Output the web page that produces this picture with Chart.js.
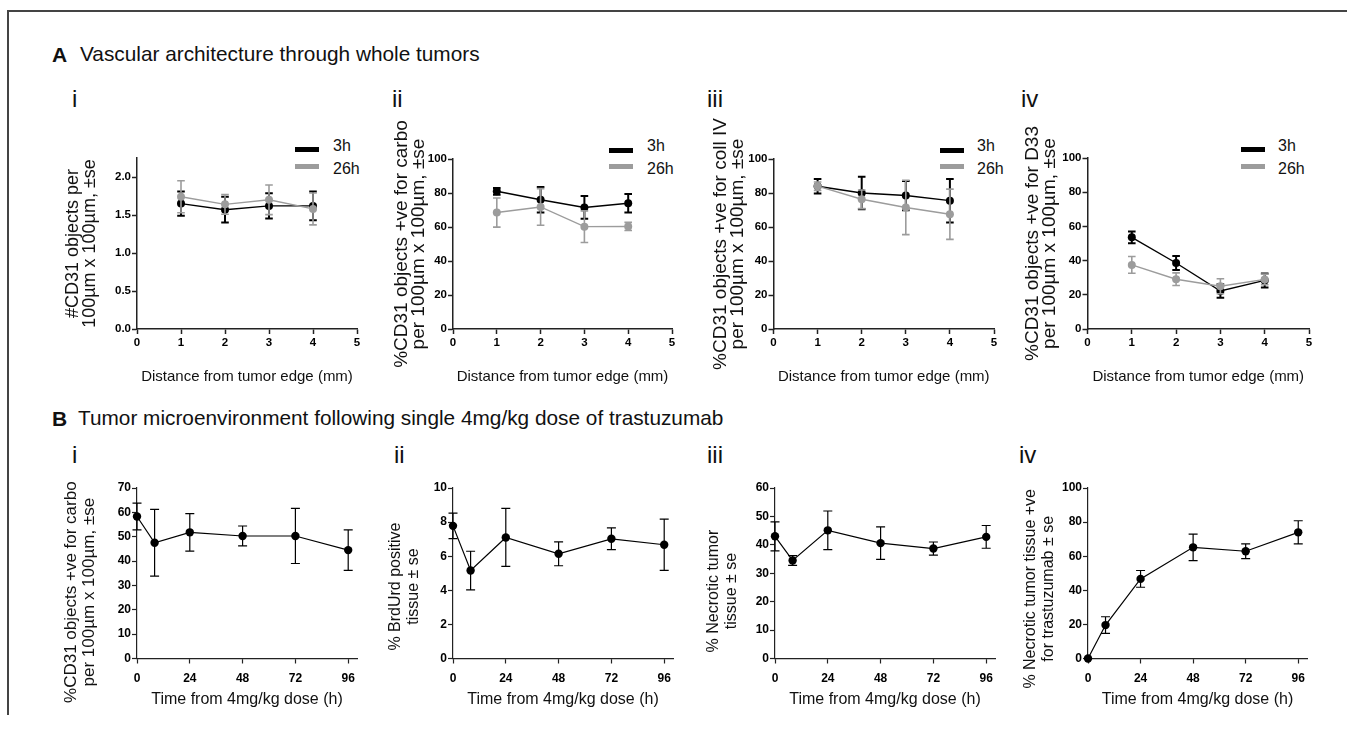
<!DOCTYPE html>
<html><head><meta charset="utf-8">
<script src="https://cdn.jsdelivr.net/npm/chart.js@4.4.0/dist/chart.umd.min.js"></script>
<style>
html,body{margin:0;padding:0;background:#fff;}
#fig{position:relative;width:1347px;height:736px;overflow:hidden;font-family:'Liberation Sans',Arial,sans-serif;color:#111;}
.frame{position:absolute;left:7px;top:10px;width:1400px;height:703px;border-top:2px solid #444;border-left:2px solid #444;}
.txt{position:absolute;white-space:nowrap;}
.cv{position:absolute;}
.sw{position:absolute;height:5px;width:24px;}
</style></head>
<body>
<div id="fig"><div class="frame"></div></div>
<script>
// ---------- DATA ----------
// Panel A: x = distance from tumor edge (mm)
const distanceMm = [1, 2, 3, 4];
const distanceTicks = [0, 1, 2, 3, 4, 5];
const distanceTickLabels = ['0', '1', '2', '3', '4', '5'];
const seriesNames = ['3h', '26h'];

const aiMean3h  = [1.65, 1.57, 1.62, 1.62];
const aiSe3h    = [0.16, 0.17, 0.165, 0.19];
const aiMean26h = [1.74, 1.64, 1.70, 1.58];
const aiSe26h   = [0.21, 0.13, 0.195, 0.21];
const aiYTicks = [0, 0.5, 1.0, 1.5, 2.0];
const aiYTickLabels = ['0.0', '0.5', '1.0', '1.5', '2.0'];

const aiiMean3h  = [81, 76, 71.5, 74];
const aiiSe3h    = [2, 7.5, 6.7, 5.4];
const aiiMean26h = [68.5, 71.8, 60.2, 60.3];
const aiiSe26h   = [8.6, 10.8, 9.3, 2.4];

const aiiiMean3h  = [84, 80, 78.5, 75.5];
const aiiiSe3h    = [4.3, 9.5, 8.6, 12.8];
const aiiiMean26h = [84, 76.3, 71.5, 67.5];
const aiiiSe26h   = [2.5, 5.5, 16, 14.8];

const aivMean3h  = [53.6, 38.6, 22.2, 28.4];
const aivSe3h    = [3.4, 4.1, 3.9, 4.1];
const aivMean26h = [37.5, 29.1, 25, 29];
const aivSe26h   = [4.9, 3.7, 4.4, 3.1];

const pctTicks = [0, 20, 40, 60, 80, 100];
const pctTickLabels = ['0', '20', '40', '60', '80', '100'];

// Panel B: x = time from 4mg/kg dose (h)
const timeH = [0, 8, 24, 48, 72, 96];
const timeTicks = [0, 24, 48, 72, 96];
const timeTickLabels = ['0', '24', '48', '72', '96'];

const biMean = [58.3, 47.5, 51.8, 50.3, 50.3, 44.5];
const biSe   = [5.5, 13.7, 7.7, 4.1, 11.3, 8.3];
const biYTicks = [0, 10, 20, 30, 40, 50, 60, 70];
const biYTickLabels = ['0', '10', '20', '30', '40', '50', '60', '70'];

const biiMean = [7.78, 5.16, 7.1, 6.14, 7.02, 6.67];
const biiSe   = [0.75, 1.13, 1.7, 0.7, 0.64, 1.5];
const biiYTicks = [0, 2, 4, 6, 8, 10];
const biiYTickLabels = ['0', '2', '4', '6', '8', '10'];

const biiiMean = [43, 34.5, 45.1, 40.6, 38.7, 42.8];
const biiiSe   = [5.1, 1.7, 6.8, 5.7, 2.3, 4.0];
const biiiYTicks = [0, 10, 20, 30, 40, 50, 60];
const biiiYTickLabels = ['0', '10', '20', '30', '40', '50', '60'];

const bivMean = [0, 19.6, 46.7, 65.2, 62.9, 74];
const bivSe   = [0, 4.9, 4.9, 7.8, 4.3, 6.8];

// ---------- STYLE ----------
const BLACK = '#000000';
const GREY = '#9c9c9c';
const AXIS = '#222222';
const TICK_FAMILY = "'Liberation Sans',Arial,sans-serif";
const TEXT_FAMILY = "'Liberation Sans',Arial,sans-serif";
const fig = document.getElementById('fig');

function addText(str, left, top, size, weight) {
  const d = document.createElement('div');
  d.className = 'txt';
  d.textContent = str;
  d.style.left = left + 'px';
  d.style.top = top + 'px';
  d.style.fontSize = size + 'px';
  d.style.lineHeight = size + 'px';
  if (weight) d.style.fontWeight = weight;
  fig.appendChild(d);
}

// section titles (baseline = top + 0.8465*size)
addText('A', 52, 62 - 0.8465 * 21, 21, 'bold');
addText('Vascular architecture through whole tumors', 80, 62 - 0.8465 * 20.8, 20.8);
addText('B', 52, 426 - 0.8465 * 21, 21, 'bold');
addText('Tumor microenvironment following single 4mg/kg dose of trastuzumab', 78, 426 - 0.8465 * 20.8, 20.8);

// panel labels
[['i', 72, 107], ['ii', 392, 107], ['iii', 707, 107], ['iv', 1021, 107],
 ['i', 72, 463.5], ['ii', 394, 463.5], ['iii', 707, 463.5], ['iv', 1019, 463.5]]
  .forEach(p => addText(p[0], p[1], p[2] - 0.8465 * 24, 24));

// legends (panel A)
function addLegend(swL, y1, y2, txL) {
  [[BLACK, y1, seriesNames[0], 151.7], [GREY, y2, seriesNames[1], 175]].forEach(it => {
    const s = document.createElement('div');
    s.className = 'sw';
    s.style.left = swL + 'px';
    s.style.top = (it[1] - 2.5) + 'px';
    s.style.background = it[0];
    fig.appendChild(s);
    addText(it[2], txL, it[3] - 0.8465 * 16, 16);
  });
}
addLegend(295, 149, 166, 333);
addLegend(609, 150, 166.5, 647);
addLegend(940, 150, 166.5, 977);
addLegend(1241, 149.5, 166, 1278);

// error bar plugin (uses the chart's own y scale)
const errorBars = {
  id: 'errorBars',
  beforeDatasetDraw(chart, args) {
    const ds = chart.data.datasets[args.index];
    if (!ds.errors) return;
    const ys = chart.scales.y;
    const ctx = chart.ctx;
    ctx.save();
    ctx.strokeStyle = ds.borderColor;
    ctx.lineWidth = ds.errorWidth;
    args.meta.data.forEach((pt, i) => {
      const e = ds.errors[i];
      if (!e) return;
      const v = ds.data[i].y;
      const yT = ys.getPixelForValue(v + e), yB = ys.getPixelForValue(v - e);
      const x = pt.x, c = ds.capHalf;
      ctx.beginPath();
      ctx.moveTo(x, yT); ctx.lineTo(x, yB);
      ctx.moveTo(x - c, yT); ctx.lineTo(x + c, yT);
      ctx.moveTo(x - c, yB); ctx.lineTo(x + c, yB);
      ctx.stroke();
    });
    ctx.restore();
  }
};

function series(xs, means, ses, color, opts) {
  return Object.assign({
    data: xs.map((x, i) => ({ x: x, y: means[i] })),
    errors: ses,
    borderColor: color,
    backgroundColor: color,
    pointBackgroundColor: color,
    pointBorderColor: color,
    pointBorderWidth: 0,
    pointRadius: 4,
    borderWidth: 1.4,
    errorWidth: 1.5,
    capHalf: 3.8,
    clip: false,
    tension: 0
  }, opts || {});
}

function makeChart(cfg) {
  const padL = 2, padT = 48, padR = 14;
  const Hx = cfg.xTitleCenter + cfg.xTitleLH / 2 - cfg.area.b;
  const Wy = cfg.area.l - cfg.titleLeft;
  const left = cfg.titleLeft - padL, top = cfg.area.t - padT;
  const width = Math.round(cfg.area.r + padR - left), height = Math.round(cfg.area.b + Hx - top);
  const cv = document.createElement('canvas');
  cv.className = 'cv';
  cv.width = width; cv.height = height;
  cv.style.width = width + 'px'; cv.style.height = height + 'px';
  cv.style.left = left + 'px'; cv.style.top = top + 'px';
  fig.appendChild(cv);
  const tickFont = { family: TICK_FAMILY, size: cfg.tickSize, weight: 'bold' };
  new Chart(cv.getContext('2d'), {
    type: 'line',
    data: { datasets: cfg.datasets },
    plugins: [errorBars],
    options: {
      responsive: false, animation: false, devicePixelRatio: 1,
      layout: { padding: { left: padL, top: padT, right: padR, bottom: 0 } },
      plugins: { legend: { display: false }, tooltip: { enabled: false } },
      scales: {
        x: {
          type: 'linear', min: cfg.xMin, max: cfg.xMax,
          afterBuildTicks: s => { s.ticks = cfg.xTicks.map(v => ({ value: v })); },
          afterFit: s => { s.height = Hx; },
          grid: { drawOnChartArea: false, drawTicks: true, tickLength: 5, color: AXIS, tickWidth: cfg.axisW },
          border: { display: true, color: AXIS, width: cfg.axisW },
          ticks: { font: tickFont, color: '#000', padding: cfg.xTickPad, maxRotation: 0, autoSkip: false,
                   callback: (v, i) => cfg.xLabels[i] },
          title: { display: true, text: cfg.xTitle, color: '#111',
                   font: { family: TEXT_FAMILY, size: cfg.xTitleSize, lineHeight: cfg.xTitleLH / cfg.xTitleSize },
                   padding: { top: 0, bottom: 0 } }
        },
        y: {
          type: 'linear', min: cfg.yMin, max: cfg.yMax,
          afterBuildTicks: s => { s.ticks = cfg.yTicks.map(v => ({ value: v })); },
          afterFit: s => { s.width = Wy; },
          grid: { drawOnChartArea: false, drawTicks: true, tickLength: 5, color: AXIS, tickWidth: cfg.axisW },
          border: { display: true, color: AXIS, width: cfg.axisW },
          ticks: { font: tickFont, color: '#000', padding: 1, autoSkip: false,
                   callback: (v, i) => cfg.yLabels[i] },
          title: { display: true, text: cfg.yTitle, color: '#111',
                   font: { family: TEXT_FAMILY, size: cfg.yTitleSize, lineHeight: cfg.yTitleLH / cfg.yTitleSize },
                   padding: { top: 0, bottom: 0 } }
        }
      }
    }
  });
}

const aCommon = {
  xMin: 0, xMax: 5, xTicks: distanceTicks, xLabels: distanceTickLabels,
  xTitle: 'Distance from tumor edge (mm)', xTitleSize: 15, xTitleLH: 18, xTitleCenter: 377,
  xTickPad: 2, tickSize: 11.5, axisW: 1.5, yTitleLH: 17.5
};
function aSets(m3, s3, m26, s26) {
  return [
    series(distanceMm, m3, s3, BLACK, { order: 1, errorWidth: 2 }),
    series(distanceMm, m26, s26, GREY, { order: 0, errorWidth: 1.6 })
  ];
}
const aLine2 = 'per 100µm x 100µm, ±se';

makeChart(Object.assign({}, aCommon, {
  area: { l: 137, r: 357, t: 158, b: 329 }, titleLeft: 64,
  yMin: 0, yMax: 2.25, yTicks: aiYTicks, yLabels: aiYTickLabels,
  yTitle: ['#CD31 objects per', '100µm x 100µm, ±se'], yTitleSize: 18,
  datasets: aSets(aiMean3h, aiSe3h, aiMean26h, aiSe26h)
}));
makeChart(Object.assign({}, aCommon, {
  area: { l: 453, r: 672, t: 159, b: 329 }, titleLeft: 393,
  yMin: 0, yMax: 100, yTicks: pctTicks, yLabels: pctTickLabels,
  yTitle: ['%CD31 objects +ve for carbo', aLine2], yTitleSize: 19,
  datasets: aSets(aiiMean3h, aiiSe3h, aiiMean26h, aiiSe26h)
}));
makeChart(Object.assign({}, aCommon, {
  area: { l: 773, r: 993, t: 159, b: 329 }, titleLeft: 711.5,
  yMin: 0, yMax: 100, yTicks: pctTicks, yLabels: pctTickLabels,
  yTitle: ['%CD31 objects +ve for coll IV', aLine2], yTitleSize: 19,
  datasets: aSets(aiiiMean3h, aiiiSe3h, aiiiMean26h, aiiiSe26h)
}));
makeChart(Object.assign({}, aCommon, {
  area: { l: 1087, r: 1308, t: 158, b: 329 }, titleLeft: 1023.5,
  yMin: 0, yMax: 100, yTicks: pctTicks, yLabels: pctTickLabels,
  yTitle: ['%CD31 objects +ve for D33', aLine2], yTitleSize: 19,
  datasets: aSets(aivMean3h, aivSe3h, aivMean26h, aivSe26h)
}));

const bCommon = {
  xMin: 0, xMax: 100, xTicks: timeTicks, xLabels: timeTickLabels,
  xTitle: 'Time from 4mg/kg dose (h)', xTitleSize: 16, xTitleLH: 19, xTitleCenter: 699,
  xTickPad: 8, tickSize: 12, axisW: 1.2, yTitleLH: 18, yTitleSize: 16
};
function bSet(m, s) {
  return [series(timeH, m, s, BLACK, { borderWidth: 1.2, errorWidth: 1.2, capHalf: 4.5, pointRadius: 4.2 })];
}
const pad8 = '        ', pad6 = '      ', pad7 = '       ';

makeChart(Object.assign({}, bCommon, {
  area: { l: 137, r: 357, t: 488, b: 658 }, titleLeft: 62,
  yMin: 0, yMax: 70, yTicks: biYTicks, yLabels: biYTickLabels,
  yTitle: ['%CD31 objects +ve for carbo' + pad8, 'per 100µm x 100µm, ±se' + pad8], yTitleSize: 17,
  datasets: bSet(biMean, biSe)
}));
makeChart(Object.assign({}, bCommon, {
  area: { l: 453, r: 673, t: 488, b: 658 }, titleLeft: 387,
  yMin: 0, yMax: 10, yTicks: biiYTicks, yLabels: biiYTickLabels,
  yTitle: ['% BrdUrd positive' + pad6, 'tissue ± se' + pad6],
  datasets: bSet(biiMean, biiSe)
}));
makeChart(Object.assign({}, bCommon, {
  area: { l: 775, r: 995, t: 488, b: 658 }, titleLeft: 705,
  yMin: 0, yMax: 60, yTicks: biiiYTicks, yLabels: biiiYTickLabels,
  yTitle: ['% Necrotic tumor' + pad8, 'tissue ± se' + pad8],
  datasets: bSet(biiiMean, biiiSe)
}));
makeChart(Object.assign({}, bCommon, {
  area: { l: 1088, r: 1307, t: 488, b: 658 }, titleLeft: 1022,
  yMin: 0, yMax: 100, yTicks: pctTicks, yLabels: pctTickLabels,
  yTitle: ['% Necrotic tumor tissue +ve' + pad7, 'for trastuzumab ± se' + pad7],
  datasets: bSet(bivMean, bivSe)
}));
</script>
</body></html>
